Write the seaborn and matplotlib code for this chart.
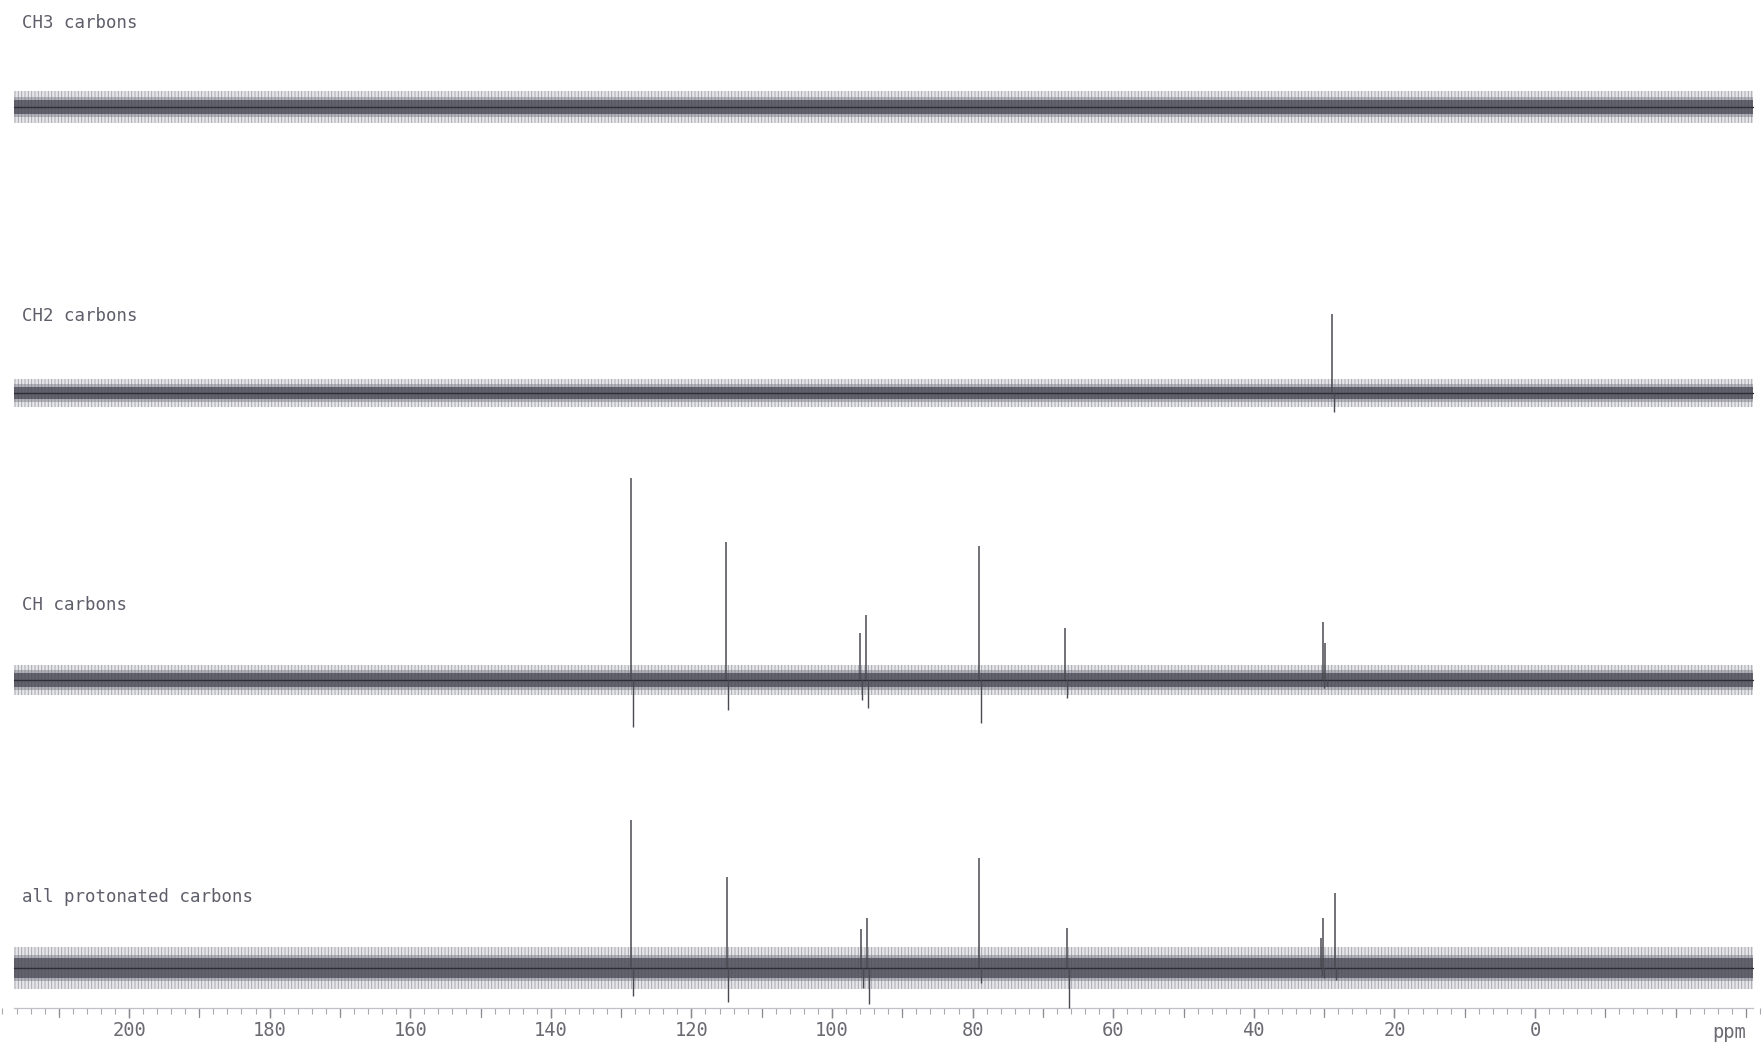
import matplotlib
matplotlib.use("Agg")
import matplotlib.pyplot as plt
import seaborn as sns
import numpy as np
import pandas as pd
from matplotlib.ticker import MultipleLocator

# ---------------- data ----------------
trace_labels = ["CH3 carbons", "CH2 carbons", "CH carbons", "all protonated carbons"]
spectrum_range = [216.4, -31.0]          # ppm extent of the recorded traces

ch3_ppm, ch3_up, ch3_down = [], [], []

ch2_ppm = [28.9]
ch2_up = [79]
ch2_down = [19]

ch_ppm = [128.6, 115.1, 96.0, 95.1, 79.1, 66.8, 30.2, 29.9]
ch_up = [202, 138, 47, 65, 134, 52, 58, 37]
ch_down = [47, 30, 20, 28, 43, 18, 8, 6]

all_ppm = [128.6, 115.0, 95.9, 95.0, 79.1, 66.6, 30.5, 30.2, 28.5]
all_up = [148, 91, 39, 50, 110, 40, 30, 50, 75]
all_down = [28, 34, 20, 36, 15, 40, 8, 10, 12]

noise_level = [16, 14, 15, 21]          # outer half width of the baseline noise
noise_core = [7, 6, 7, 10]              # half width of the dense noise core

tick_major = 20
tick_mid = 10
tick_minor = 2

# ---------------- layout ----------------
W, H, DPI = 1762, 1045, 100
baselines = [107, 393, 680, 968]        # vertical position of each trace (px from top)
label_y = [23, 316, 605, 897]
axis_y = 1008

sns.set_theme(style="white")
plt.rcParams["font.family"] = ["DejaVu Sans Mono", "DejaVu Sans"]
plt.rcParams["hatch.linewidth"] = 0.7

fig = plt.figure(figsize=(W / DPI, H / DPI), dpi=DPI)
fig.patch.set_facecolor("white")
ax = fig.add_axes([0, 0, 1, 1])
ax.set_facecolor("white")

px_per_ppm = 7.03
x_left = 200 + 129 / px_per_ppm
x_right = 200 - (W - 129) / px_per_ppm
ax.set_xlim(x_left, x_right)
ax.set_ylim(H, 0)

traces = [
    (ch3_ppm, ch3_up, ch3_down),
    (ch2_ppm, ch2_up, ch2_down),
    (ch_ppm, ch_up, ch_down),
    (all_ppm, all_up, all_down),
]

line_col = "#4a4a52"
xs = np.array(spectrum_range)
for i, (ppm, up, down) in enumerate(traces):
    b = baselines[i]
    lvl, core = noise_level[i], noise_core[i]
    # noise band: faint textured halo, then denser core
    ax.fill_between(xs, b - lvl, b + lvl,
                    facecolor=(0.74, 0.74, 0.77, 0.35), edgecolor=(0.45, 0.45, 0.5, 0.55),
                    hatch="|||||", linewidth=0, zorder=2)
    ax.fill_between(xs, b - (core + 3), b + (core + 3),
                    facecolor=(0.45, 0.45, 0.5, 0.45), edgecolor="none",
                    linewidth=0, zorder=3)
    ax.fill_between(xs, b - core, b + core,
                    facecolor=(0.25, 0.25, 0.3, 0.7), edgecolor="none",
                    linewidth=0, zorder=3)
    # baseline centre line
    df = pd.DataFrame({"ppm": xs, "y": [b, b]})
    sns.lineplot(data=df, x="ppm", y="y", ax=ax, color="#2e2e36", lw=1.0,
                 estimator=None, sort=False, zorder=4)
    # peaks (positive lobes) and dispersive dips just upfield
    if ppm:
        p = np.array(ppm)
        ax.vlines(p, b, b - np.array(up), color=line_col, lw=1.1, zorder=5)
        ax.vlines(p - 0.25, b, b + np.array(down), color=line_col, lw=1.0, zorder=5)
    ax.text(22 / W, 1 - label_y[i] / H, trace_labels[i], transform=ax.transAxes,
            fontsize=12.5, color="#5e5e6a", va="center", ha="left")

# ppm axis
for s in ["top", "left", "right"]:
    ax.spines[s].set_visible(False)
ax.spines["bottom"].set_position(("data", axis_y))
ax.spines["bottom"].set_bounds(spectrum_range[0], spectrum_range[1])
ax.spines["bottom"].set_color("#c0c0c6")
ax.spines["bottom"].set_linewidth(0.9)
ax.set_yticks([])
ax.xaxis.set_major_locator(MultipleLocator(tick_major))
ax.xaxis.set_minor_locator(MultipleLocator(tick_minor))
ax.tick_params(axis="x", which="major", direction="out", length=7, width=1.0,
               color="#8a8a90", labelsize=13.5, labelcolor="#6a6a72", pad=2, bottom=True)
ax.tick_params(axis="x", which="minor", direction="out", length=4, width=0.8,
               color="#a8a8ae", bottom=True)
ticks = np.arange(200, -1, -tick_major)
ax.set_xticks(ticks)
ax.set_xticklabels([f"{t:d}" for t in ticks])
# 10-ppm mid ticks
for t in np.arange(210, -31, -tick_mid):
    ax.plot([t, t], [axis_y, axis_y + 9], color="#8a8a90", lw=0.9, zorder=1,
            clip_on=False)
ax.set_xlabel("")
ax.set_ylabel("")
ax.text(1729 / W, 1 - 1032 / H, "ppm", transform=ax.transAxes, fontsize=13.5,
        color="#6a6a72", ha="center", va="center")

fig.savefig("out.png", dpi=DPI, facecolor="white")
